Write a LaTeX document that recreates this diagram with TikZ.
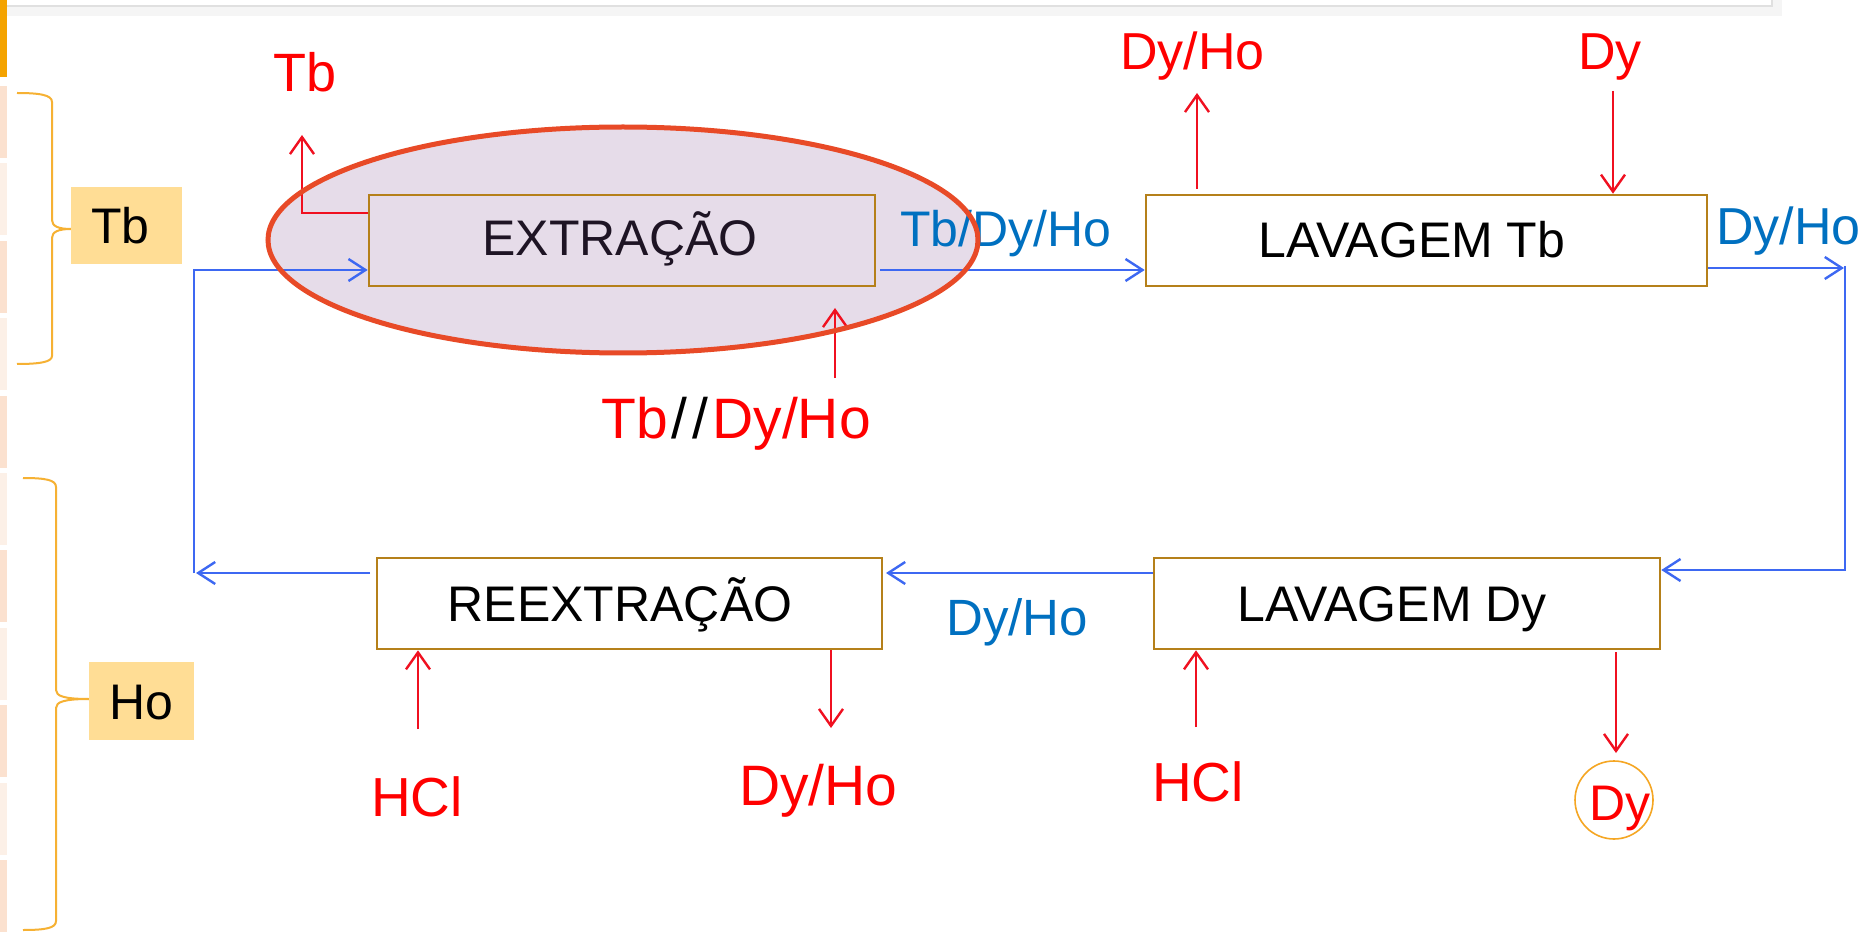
\documentclass[tikz,border=0pt]{standalone}
\usepackage{fontspec}
\setmainfont{Liberation Sans}
\usetikzlibrary{arrows.meta}
\definecolor{boxc}{HTML}{B5801A}
\definecolor{redc}{HTML}{FF0000}
\definecolor{arrred}{HTML}{F01020}
\definecolor{bluea}{HTML}{3D68F2}
\definecolor{bluet}{HTML}{0070C0}
\definecolor{tagc}{HTML}{FFDD95}
\definecolor{bracec}{HTML}{F6B133}
\definecolor{orbar}{HTML}{F4A300}
\definecolor{tileA}{HTML}{FBE1CF}
\definecolor{tileB}{HTML}{FCF0E7}
\definecolor{ellc}{HTML}{E84A27}
\definecolor{ellf}{HTML}{E6DCE9}
\definecolor{circc}{HTML}{F5A623}
\definecolor{darkt}{HTML}{1E1424}
\newcommand\fsz[1]{\fontsize{#1}{#1}\selectfont}
\tikzset{
  box/.style={draw=boxc, line width=2.6pt, inner sep=0pt, minimum height=91pt},
  txt/.style={anchor=base, inner sep=0pt, font=\fsz{50}},
  tag/.style={fill=tagc, inner sep=0pt, font=\fsz{50}, text height=36pt, text depth=0pt},
  rarr/.style={draw=arrred, line width=2.4pt, -{Straight Barb[length=17pt,width=24pt]}},
  barr/.style={draw=bluea, line width=2.4pt, -{Straight Barb[length=17pt,width=22pt]}},
  bline/.style={draw=bluea, line width=2.4pt},
  rl/.style={anchor=base west, inner sep=0pt, text=redc},
  bl/.style={anchor=base west, inner sep=0pt, text=bluet},
  brace/.style={draw=bracec, line width=2pt},
}
\begin{document}
\begin{tikzpicture}[x=1pt, y=-1pt]
\useasboundingbox (0,0) rectangle (1864,933);
\fill[white] (0,0) rectangle (1864,933);
% top panel edge and shadow
\fill[black!4] (0,0) rectangle (1782,16);
\filldraw[fill=white, draw=black!12, line width=2pt] (-5,-5) rectangle (1772,6);
% left strip
\fill[orbar] (0,0) rectangle (7,77);
\foreach \k [evaluate=\k as \yy using 86+77.4*\k] in {0,2,4,6,8,10} {\fill[tileA] (0,\yy) rectangle (7,\yy+72);}
\foreach \k [evaluate=\k as \yy using 86+77.4*\k] in {1,3,5,7,9} {\fill[tileB] (0,\yy) rectangle (7,\yy+72);}
% braces
\draw[brace] (17,93) .. controls (40,93) and (52,95) .. (52,102) -- (52,220) .. controls (52,226) and (58,229) .. (71,229);
\draw[brace] (71,229) .. controls (58,229) and (52,232) .. (52,238) -- (52,356) .. controls (52,362) and (40,364) .. (17,364);
\draw[brace] (23,478) .. controls (46,478) and (56,480) .. (56,487) -- (56,690) .. controls (56,696) and (64,699) .. (89,699);
\draw[brace] (89,699) .. controls (64,699) and (56,702) .. (56,708) -- (56,921) .. controls (56,928) and (46,930) .. (23,930);
\node[tag, minimum width=111pt, minimum height=77pt] (tbTag) at (126.5,225.5) {\hspace*{-12pt}Tb};
\node[tag, minimum width=105pt, minimum height=78pt] (hoTag) at (141.5,701) {Ho};
% ellipse fill
\fill[ellf] (623,240) ellipse [x radius=355, y radius=113];
% boxes
\node[box, minimum width=506pt] (ext) at (622,240.5) {};
\node[box, minimum width=561pt] (lavtb) at (1426.5,240.5) {};
\node[box, minimum width=505pt] (reext) at (629.5,603.5) {};
\node[box, minimum width=506pt] (lavdy) at (1407,603.5) {};
\node[txt, text=darkt] (extT) at (620,256) {EXTRAÇÃO};
\node[txt] (lavtbT) at (1412,258) {LAVAGEM Tb};
\node[txt] (reextT) at (620,621) {REEXTRAÇÃO};
\node[txt] (lavdyT) at (1392,621) {LAVAGEM Dy};
% labels
\node[rl, font=\fsz{54}] (lTb) at (273,92) {Tb};
\node[rl, font=\fsz{52}] (lDyHo1) at (1120,70) {Dy/Ho};
\node[rl, font=\fsz{52}] (lDy1) at (1578,70) {Dy};
\node[rl, font=\fsz{57}] (lFeed) at (601,438) {Tb{\color{black}\kern4pt/\kern5pt/\kern4pt}Dy/Ho};
\node[rl, font=\fsz{55}] (lHCl1) at (371,816) {HCl};
\node[rl, font=\fsz{57}] (lDyHo2) at (739,805) {Dy/Ho};
\node[rl, font=\fsz{55}] (lHCl2) at (1152,801) {HCl};
\node[draw=circc, line width=1.6pt, circle, minimum size=78pt, inner sep=0pt] (dyc) at (1614,800) {};
\node[anchor=base, inner sep=0pt, font=\fsz{50}, text=redc] (lDy2) at (1620,820) {Dy};
\node[bl, font=\fsz{50}] (lTbDyHo) at (900,247) {Tb/Dy/Ho};
\node[bl, font=\fsz{52}] (lDyHo3) at (1716,245) {Dy/Ho};
\node[bl, font=\fsz{51}] (lDyHo4) at (946,635) {Dy/Ho};
% red arrows
\coordinate (tbC) at (302,213);
\coordinate (tbE) at (302,135);
\draw[rarr] (ext.west |- tbC) -- (tbC) -- (tbE);
\coordinate (fS) at (835,378);
\coordinate (fE) at (835,308);
\draw[rarr] (fS) -- (fE);
\coordinate (dhS) at (1197,189);
\coordinate (dhE) at (1197,93);
\draw[rarr] (dhS) -- (dhE);
\coordinate (dyS) at (1613,91);
\draw[rarr] (dyS) -- (dyS |- lavtb.north);
\coordinate (h1S) at (418,729);
\draw[rarr] (h1S) -- (h1S |- reext.south);
\coordinate (d2E) at (831,728);
\draw[rarr] (reext.south -| d2E) -- (d2E);
\coordinate (h2S) at (1196,727);
\draw[rarr] (h2S) -- (h2S |- lavdy.south);
\coordinate (d3S) at (1616,652);
\coordinate (d3E) at (1616,753);
\draw[rarr] (d3S) -- (d3E);
% blue arrows
\coordinate (b1S) at (880,270);
\draw[barr] (b1S) -- (b1S -| lavtb.west);
\coordinate (rT) at (1844,268);
\coordinate (rB) at (1845,570);
\draw[barr] (lavtb.east |- rT) -- (rT);
\draw[barr] (1845,266) -- (rB) -- (rB -| lavdy.east);
\coordinate (mS) at (886,573);
\draw[barr] (lavdy.west |- mS) -- (mS);
\coordinate (lB) at (194,573);
\coordinate (lT) at (194,270);
\draw[barr] (370,573) -- (196,573);
\draw[barr] (194,573) -- (lT) -- (ext.west |- lT);
% ellipse outline on top
\draw[ellc, line width=5pt] (623,240) ellipse [x radius=355, y radius=113];
\end{tikzpicture}
\end{document}
